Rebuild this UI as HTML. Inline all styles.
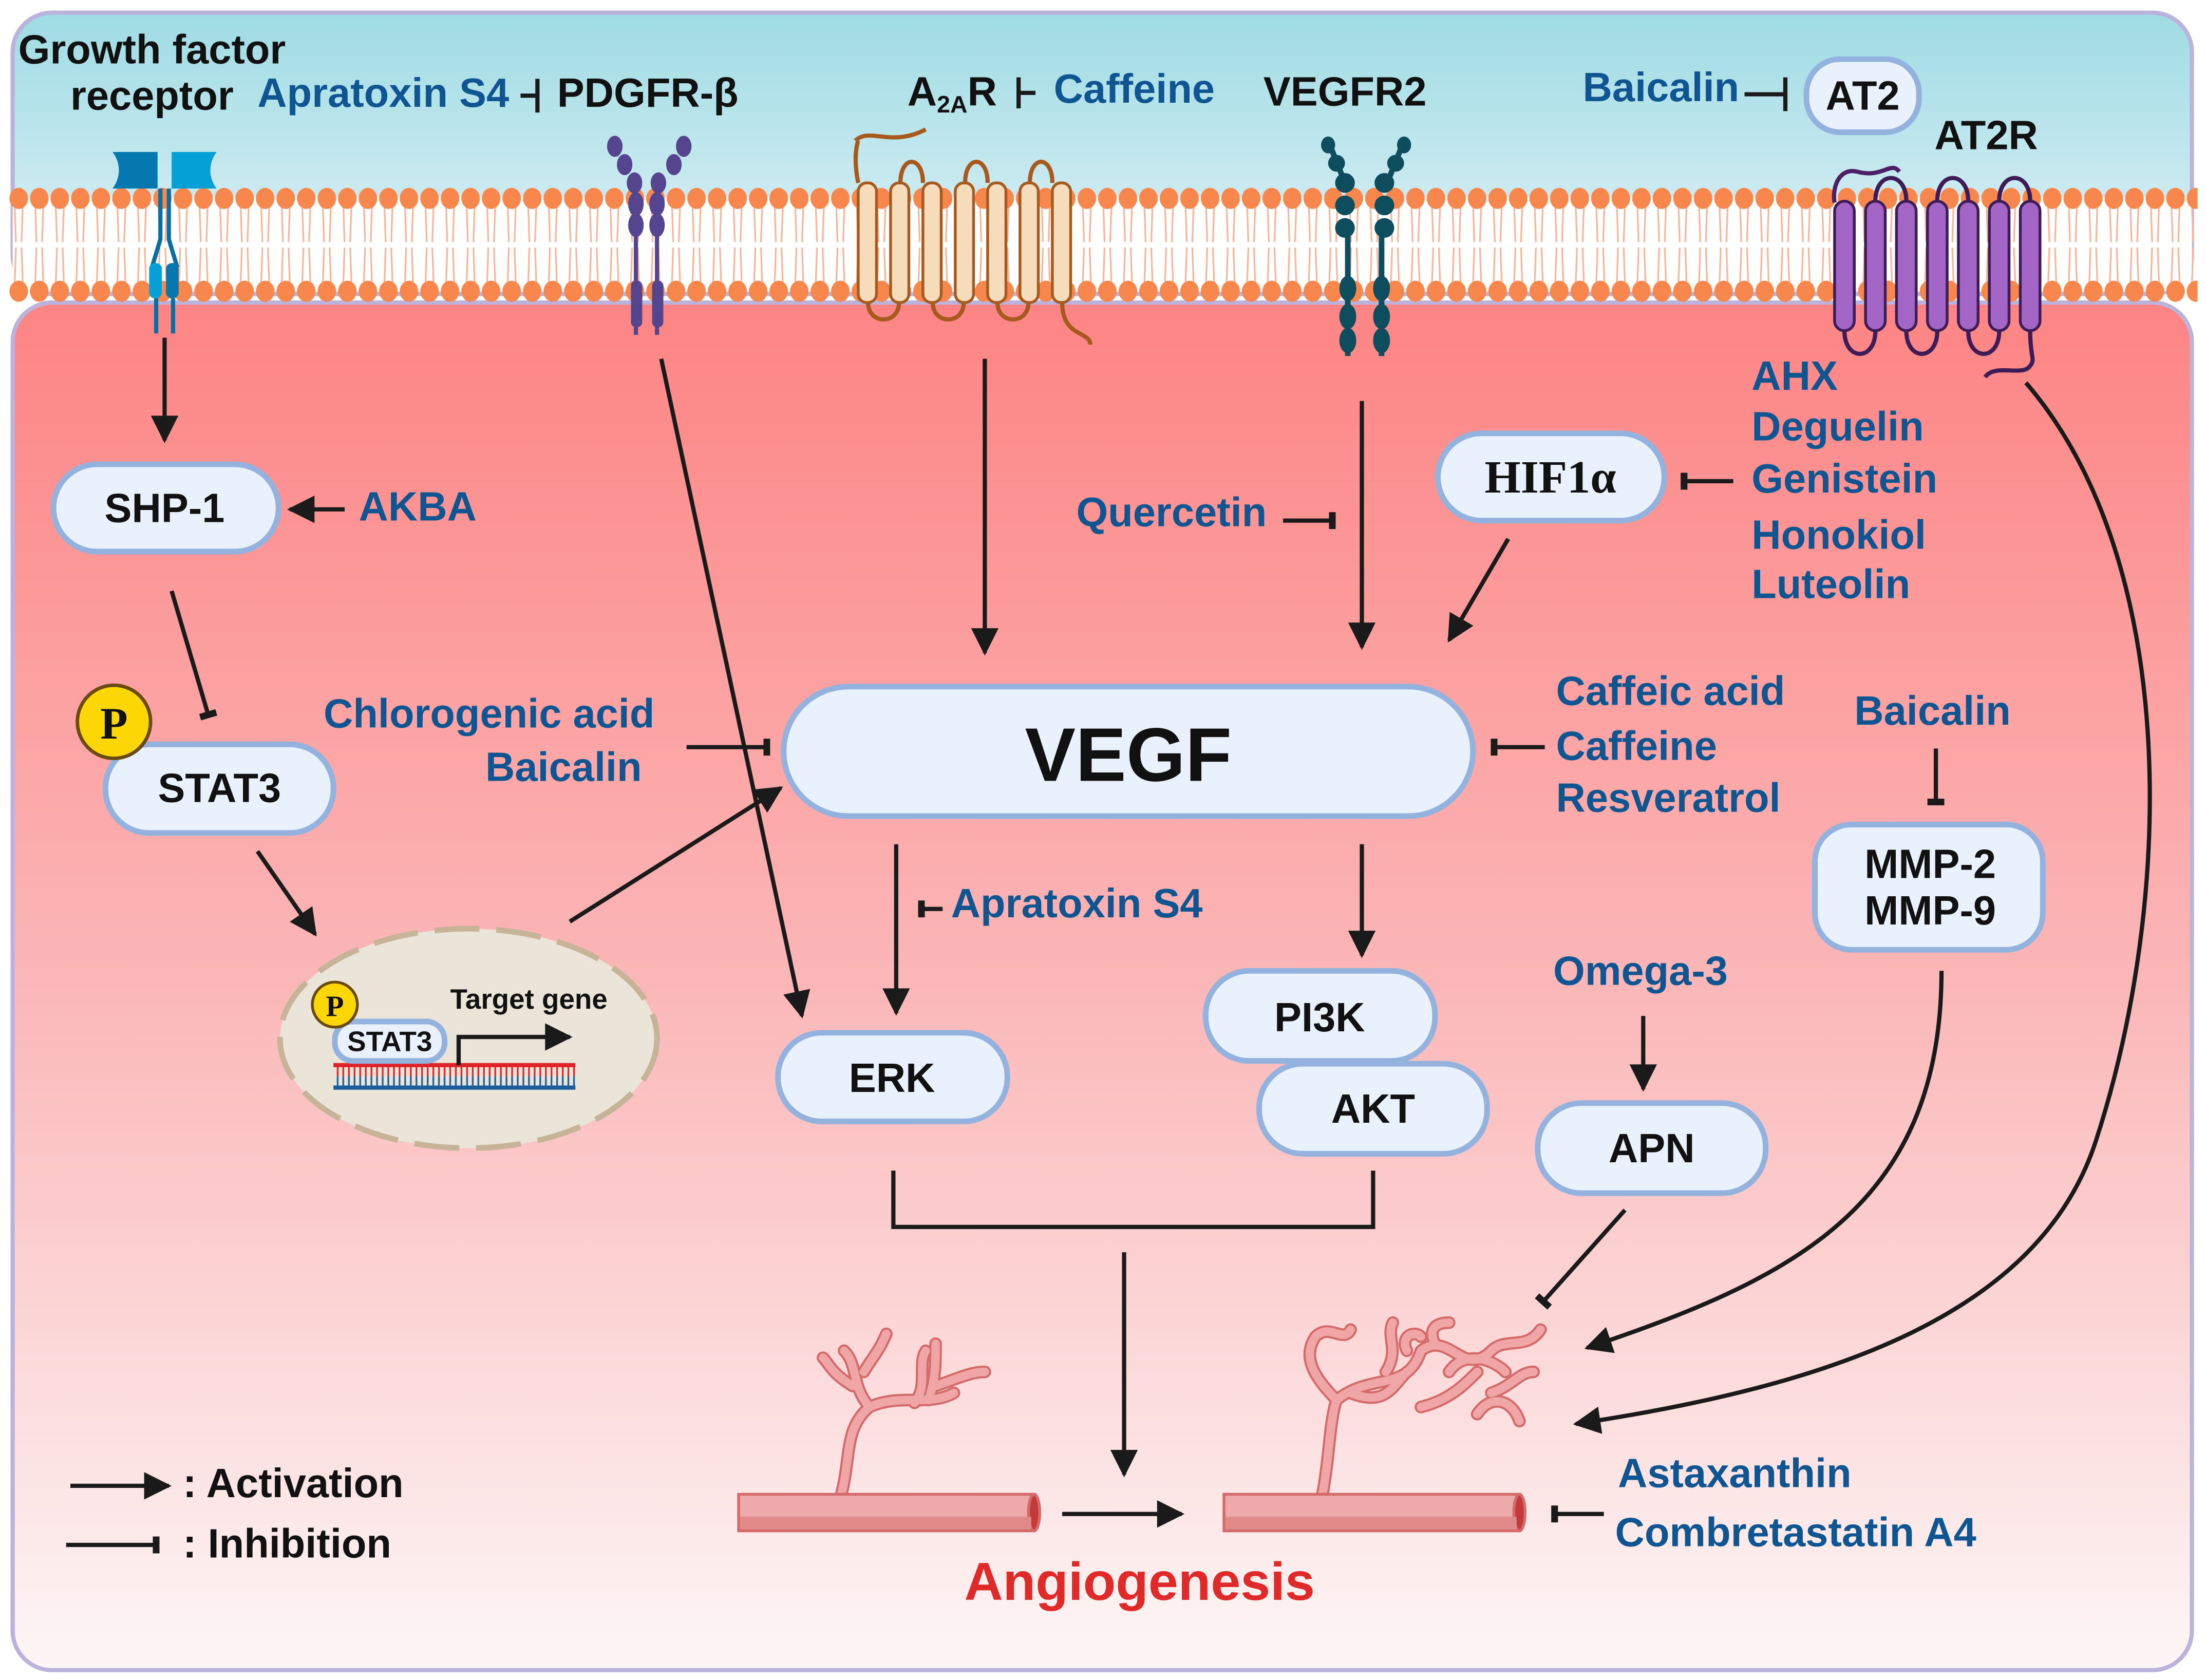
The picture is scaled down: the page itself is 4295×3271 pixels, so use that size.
<!DOCTYPE html>
<html><head><meta charset="utf-8"><style>
html,body{margin:0;padding:0;background:#fff;}
svg{display:block;}
text{font-family:"Liberation Sans",Arial,sans-serif;font-weight:bold;}
.b{fill:#0e5592;font-size:29px;}
.k{fill:#111;font-size:29px;}
.n{fill:#e9f2fc;stroke:#93b2dd;stroke-width:4;}
.l{stroke:#1a1a1a;stroke-width:3;fill:none;}
</style></head><body>
<svg width="4295" height="3271" viewBox="0 0 1568 1194" preserveAspectRatio="none" xmlns="http://www.w3.org/2000/svg">
<defs>
<linearGradient id="top" x1="0" y1="0" x2="0" y2="1"><stop offset="0" stop-color="#9fdbe4"/><stop offset="1" stop-color="#e2f3f7"/></linearGradient>
<linearGradient id="cyt" x1="0" y1="0" x2="0" y2="1"><stop offset="0" stop-color="#fd8484"/><stop offset="0.5" stop-color="#fbb7b8"/><stop offset="1" stop-color="#fdf6f6"/></linearGradient>
<pattern id="mem" x="6" y="0" width="14.6" height="300" patternUnits="userSpaceOnUse">
<line x1="4.3" y1="142" x2="5.3" y2="172" stroke="#f7b59c" stroke-width="1.2"/>
<line x1="10.3" y1="142" x2="9.3" y2="172" stroke="#f7b59c" stroke-width="1.2"/>
<line x1="5.3" y1="176" x2="4.3" y2="205" stroke="#f7b59c" stroke-width="1.2"/>
<line x1="9.3" y1="176" x2="10.3" y2="205" stroke="#f7b59c" stroke-width="1.2"/>
<ellipse cx="7.3" cy="141" rx="6.6" ry="7.5" fill="#f7874d"/>
<ellipse cx="7.3" cy="207" rx="6.6" ry="7.5" fill="#f7874d"/>
</pattern>
<pattern id="dna" x="239" y="0" width="4" height="1000" patternUnits="userSpaceOnUse">
<line x1="1" y1="758" x2="1" y2="765" stroke="#e0232b" stroke-width="1.2"/>
<line x1="1" y1="765" x2="1" y2="772" stroke="#1b5e9e" stroke-width="1.2"/>
</pattern>
<marker id="a" viewBox="0 0 10 10" refX="9" refY="5" markerWidth="7" markerHeight="6.5" orient="auto" markerUnits="strokeWidth"><path d="M0,0L10,5L0,10z" fill="#1a1a1a"/></marker>
<marker id="t" viewBox="0 0 4 10" refX="2" refY="5" markerWidth="1.6" markerHeight="8.5" orient="auto" markerUnits="strokeWidth"><rect x="0" y="0" width="4" height="10" fill="#1a1a1a"/></marker>
</defs>
<rect x="0" y="0" width="1568" height="1194" fill="#fff"/>
<rect x="9" y="9" width="1549" height="200" rx="28" fill="url(#top)" stroke="#bbb3dc" stroke-width="3"/>
<rect x="9" y="215" width="1549" height="972" rx="28" fill="url(#cyt)" stroke="#bbb3dc" stroke-width="3"/>
<rect x="9" y="140" width="1549" height="67" fill="#fff"/>
<rect x="6" y="130" width="1556" height="87" fill="url(#mem)"/>
<!-- growth factor receptor -->
<path d="M80,108h32v26h-32c6-8,6-18,0-26z" fill="#0578b0"/>
<path d="M122,108h32c-6,8,-6,18,0,26h-32z" fill="#05a0d6"/>
<path d="M114,134 L114,170 L108,190 M120,134 L120,170 L126,190" stroke="#0a6fa0" stroke-width="3" fill="none"/>
<rect x="106" y="187" width="9" height="25" rx="4" fill="#05a0d6"/><rect x="118" y="187" width="9" height="25" rx="4" fill="#0578b0"/>
<path d="M111,212v25M123,212v25" stroke="#0a6fa0" stroke-width="3"/>
<!-- PDGFR -->
<g fill="#55448e" stroke="#55448e">
<ellipse cx="437" cy="104" rx="5" ry="7"/><ellipse cx="486" cy="104" rx="5" ry="7"/>
<ellipse cx="444" cy="117" rx="5" ry="7"/><ellipse cx="479" cy="117" rx="5" ry="7"/>
<ellipse cx="451" cy="130" rx="5" ry="7"/><ellipse cx="468" cy="130" rx="5" ry="7"/>
<ellipse cx="452" cy="145" rx="5" ry="8"/><ellipse cx="467" cy="145" rx="5" ry="8"/>
<ellipse cx="452" cy="160" rx="5" ry="8"/><ellipse cx="467" cy="160" rx="5" ry="8"/>
<path d="M452,165v73M467,165v73" stroke-width="3"/>
<rect x="449" y="200" width="7" height="32" rx="3"/><rect x="464" y="200" width="7" height="32" rx="3"/>
</g>
<!-- A2AR -->
<path d="M608,100c10,-10,25,5,50,-8" stroke="#a65a1e" stroke-width="3" fill="none"/>
<g fill="#f7dcbc" stroke="#a65a1e" stroke-width="2">
<rect x="610" y="130" width="13" height="85" rx="6"/><rect x="633" y="130" width="13" height="85" rx="6"/><rect x="656" y="130" width="13" height="85" rx="6"/><rect x="679" y="130" width="13" height="85" rx="6"/><rect x="702" y="130" width="13" height="85" rx="6"/><rect x="725" y="130" width="13" height="85" rx="6"/><rect x="748" y="130" width="13" height="85" rx="6"/>
</g>
<path d="M610,130c-4,-20,0,-30,0,-30M640,130c0,-20,16,-20,16,0M686,130c0,-20,16,-20,16,0M732,130c0,-20,16,-20,16,0M617,215c0,16,22,16,22,0M663,215c0,16,22,16,22,0M709,215c0,16,22,16,22,0M755,215c0,25,20,20,20,30" stroke="#a65a1e" stroke-width="3" fill="none"/>
<!-- VEGFR2 -->
<g fill="#0d4d5e">
<path d="M944,100 L956,130 M998,100 L986,130" stroke="#0d4d5e" stroke-width="4"/>
<ellipse cx="944" cy="103" rx="5" ry="6"/><ellipse cx="998" cy="103" rx="5" ry="6"/>
<ellipse cx="950" cy="116" rx="6" ry="6"/><ellipse cx="992" cy="116" rx="6" ry="6"/>
<ellipse cx="956" cy="130" rx="7" ry="7"/><ellipse cx="984" cy="130" rx="7" ry="7"/>
<ellipse cx="956" cy="146" rx="7" ry="7"/><ellipse cx="984" cy="146" rx="7" ry="7"/>
<ellipse cx="956" cy="162" rx="7" ry="7"/><ellipse cx="984" cy="162" rx="7" ry="7"/>
<path d="M958,168v85M982,168v85" stroke="#0d4d5e" stroke-width="4"/>
<ellipse cx="958" cy="205" rx="6" ry="9"/><ellipse cx="982" cy="205" rx="6" ry="9"/>
<ellipse cx="958" cy="225" rx="6" ry="9"/><ellipse cx="982" cy="225" rx="6" ry="9"/>
<ellipse cx="958" cy="242" rx="6" ry="9"/><ellipse cx="982" cy="242" rx="6" ry="9"/>
</g>
<!-- AT2R -->
<path d="M1350,122c-6,-8,-12,5,-30,0c-12,-3,-18,10,-16,22" stroke="#4a1f66" stroke-width="3" fill="none"/>
<g fill="#a365c6" stroke="#3e1c58" stroke-width="2">
<rect x="1304" y="143" width="14" height="92" rx="7"/><rect x="1326" y="143" width="14" height="92" rx="7"/><rect x="1348" y="143" width="14" height="92" rx="7"/><rect x="1370" y="143" width="14" height="92" rx="7"/><rect x="1392" y="143" width="14" height="92" rx="7"/><rect x="1414" y="143" width="14" height="92" rx="7"/><rect x="1436" y="143" width="14" height="92" rx="7"/>
</g>
<path d="M1333,143c0,-22,22,-22,22,0M1377,143c0,-22,22,-22,22,0M1421,143c0,-22,22,-22,22,0M1311,235c0,22,22,22,22,0M1355,235c0,22,22,22,22,0M1399,235c0,22,22,22,22,0M1443,235c0,20,4,20,0,25c-5,8,-25,-2,-32,8" stroke="#3e1c58" stroke-width="3" fill="none"/>
<!-- top labels -->
<text x="13" y="45" class="k">Growth factor</text>
<text x="50" y="78" class="k">receptor</text>
<text x="183" y="76" class="b">Apratoxin S4</text>
<path d="M370,68h12M382,56v24" stroke="#1a1a1a" stroke-width="3"/>
<text x="396" y="76" class="k">PDGFR-β</text>
<text x="645" y="75" class="k">A<tspan font-size="17" dy="5">2A</tspan><tspan dy="-5">R</tspan></text>
<path d="M724,55v22M724,66h12" stroke="#1a1a1a" stroke-width="3"/>
<text x="749" y="73" class="b">Caffeine</text>
<text x="898" y="75" class="k">VEGFR2</text>
<text x="1125" y="72" class="b">Baicalin</text>
<path d="M1240,67h28M1269,55v24" stroke="#1a1a1a" stroke-width="3"/>
<rect x="1284" y="42" width="80" height="52" rx="24" class="n"/>
<text x="1324" y="78" class="k" text-anchor="middle">AT2</text>
<text x="1375" y="106" class="k">AT2R</text>
<!-- nodes -->
<rect x="38" y="330" width="160" height="62" rx="31" class="n"/><text x="117" y="371" class="k" text-anchor="middle">SHP-1</text>
<text x="255" y="370" class="b">AKBA</text>
<rect x="75" y="529" width="162" height="63" rx="31" class="n"/><text x="156" y="570" class="k" text-anchor="middle">STAT3</text>
<circle cx="81" cy="513" r="26" fill="#fcd705" stroke="#6b4a10" stroke-width="2.5"/><text x="81" y="525" text-anchor="middle" style="font-family:'Liberation Serif',serif;font-size:32px;fill:#111">P</text>
<rect x="557" y="488" width="490" height="92" rx="46" class="n"/><text x="802" y="555" class="k" text-anchor="middle" style="font-size:54px">VEGF</text>
<rect x="1022" y="308" width="161" height="62" rx="31" class="n"/><text x="1102" y="350" text-anchor="middle" style="font-family:'Liberation Serif',serif;font-size:33px;fill:#111">HIF1α</text>
<text x="1245" y="277" class="b">AHX</text>
<text x="1245" y="313" class="b">Deguelin</text>
<text x="1245" y="350" class="b">Genistein</text>
<text x="1245" y="390" class="b">Honokiol</text>
<text x="1245" y="425" class="b">Luteolin</text>
<text x="765" y="374" class="b">Quercetin</text>
<text x="230" y="517" class="b">Chlorogenic acid</text>
<text x="345" y="555" class="b">Baicalin</text>
<text x="1106" y="501" class="b">Caffeic acid</text>
<text x="1106" y="540" class="b">Caffeine</text>
<text x="1106" y="577" class="b">Resveratrol</text>
<text x="1318" y="515" class="b">Baicalin</text>
<rect x="1290" y="586" width="162" height="89" rx="26" class="n"/>
<text x="1372" y="624" class="k" text-anchor="middle">MMP-2</text><text x="1372" y="657" class="k" text-anchor="middle">MMP-9</text>
<text x="676" y="652" class="b">Apratoxin S4</text>
<rect x="553" y="734" width="163" height="63" rx="31" class="n"/><text x="634" y="776" class="k" text-anchor="middle">ERK</text>
<rect x="857" y="690" width="163" height="64" rx="31" class="n"/><text x="938" y="733" class="k" text-anchor="middle">PI3K</text>
<rect x="895" y="756" width="162" height="64" rx="31" class="n"/><text x="976" y="798" class="k" text-anchor="middle">AKT</text>
<text x="1104" y="700" class="b">Omega-3</text>
<rect x="1093" y="784" width="162" height="64" rx="31" class="n"/><text x="1174" y="826" class="k" text-anchor="middle">APN</text>
<!-- nucleus -->
<ellipse cx="333" cy="738" rx="134" ry="78" fill="#ebe4d8" stroke="#c7b398" stroke-width="4" stroke-dasharray="32 12"/>
<rect x="239" y="758" width="170" height="14" fill="url(#dna)"/>
<path d="M237,757h172" stroke="#e0232b" stroke-width="3"/><path d="M237,773h172" stroke="#1b5e9e" stroke-width="3"/>
<rect x="238" y="726" width="78" height="28" rx="13" class="n" stroke-width="2"/><text x="277" y="747" class="k" text-anchor="middle" style="font-size:20px">STAT3</text>
<circle cx="238" cy="714" r="16" fill="#fcd705" stroke="#6b4a10" stroke-width="2"/><text x="238" y="722" text-anchor="middle" style="font-family:'Liberation Serif',serif;font-size:21px;fill:#111">P</text>
<text x="320" y="717" class="k" style="font-size:20px">Target gene</text>
<path d="M326,757V737H405" class="l" stroke-width="2.5" marker-end="url(#a)"/>
<!-- connectors -->
<g class="l">
<path d="M117,240V313" marker-end="url(#a)"/>
<path d="M245,362H206" marker-end="url(#a)"/>
<path d="M122,420L148,508" marker-end="url(#t)"/>
<path d="M183,605L224,664" marker-end="url(#a)"/>
<path d="M405,655L555,560" marker-end="url(#a)"/>
<path d="M488,531H545" marker-end="url(#t)"/>
<path d="M470,255L570,722" marker-end="url(#a)"/>
<path d="M700,255V464" marker-end="url(#a)"/>
<path d="M968,285V460" marker-end="url(#a)"/>
<path d="M912,370H947" marker-end="url(#t)"/>
<path d="M1072,383L1030,455" marker-end="url(#a)"/>
<path d="M1232,342H1197" marker-end="url(#t)"/>
<path d="M1098,531H1062" marker-end="url(#t)"/>
<path d="M637,600V720" marker-end="url(#a)"/>
<path d="M670,646H655" marker-end="url(#t)"/>
<path d="M968,600V679" marker-end="url(#a)"/>
<path d="M1168,722V774" marker-end="url(#a)"/>
<path d="M1376,532V570" marker-end="url(#t)"/>
<path d="M635,832V872H976V832"/>
<path d="M799,890V1048" marker-end="url(#a)"/>
<path d="M1155,860L1097,925" marker-end="url(#t)"/>
<path d="M1380,690C1380,860 1270,910 1128,958" marker-end="url(#a)"/>
<path d="M1440,272C1550,400 1545,640 1490,810C1450,935 1300,985 1120,1012" marker-end="url(#a)"/>
<path d="M755,1076H840" marker-end="url(#a)"/>
<path d="M1140,1076H1105" marker-end="url(#t)"/>
<path d="M50,1056H120" marker-end="url(#a)"/>
<path d="M47,1098H111" marker-end="url(#t)"/>
</g>
<!-- vessels -->
<g stroke="#d46a6a" stroke-width="9" fill="none" stroke-linecap="round" stroke-linejoin="round">
<path id="v1" d="M598,1062C605,1035 600,1015 618,1000C640,990 660,1000 678,990M618,1000C605,985 610,970 600,960M606,985C590,975 590,970 585,965M614,975C620,965 625,960 630,948M660,995C665,980 665,970 665,955M665,985C680,980 690,975 700,975M650,997C660,985 652,970 658,960"/>
<path id="v2" d="M940,1062C945,1035 945,1010 950,995C975,975 1000,990 1010,960C1030,945 1040,980 1060,960C1070,950 1085,960 1095,945M950,995C935,980 925,965 935,950C945,940 955,955 960,945M960,990C985,1000 990,985 1000,975M985,975C995,960 985,950 990,940M1010,1000C1030,995 1040,985 1050,975M1030,975C1040,960 1060,965 1070,975M1060,990C1075,985 1080,975 1090,975M1020,955C1015,945 1020,940 1030,940M1050,1005C1060,990 1075,995 1080,1010M1000,960C995,950 1005,945 1010,950"/>
</g>
<g stroke="#f0a6a6" stroke-width="6" fill="none" stroke-linecap="round" stroke-linejoin="round">
<use href="#v1"/><use href="#v2"/>
</g>
<g fill="#eeaaaa" stroke="#d46a6a" stroke-width="2">
<rect x="525" y="1062" width="210" height="26"/><ellipse cx="735" cy="1075" rx="4" ry="13" fill="#c43a3a"/>
<rect x="870" y="1062" width="210" height="26"/><ellipse cx="1080" cy="1075" rx="4" ry="13" fill="#c43a3a"/>
</g>
<rect x="526" y="1078" width="207" height="9" fill="#e08a8a"/><rect x="871" y="1078" width="207" height="9" fill="#e08a8a"/>
<text x="1150" y="1057" class="b">Astaxanthin</text>
<text x="1148" y="1099" class="b">Combretastatin A4</text>
<text x="810" y="1137" text-anchor="middle" style="fill:#e02a2a;font-size:38px">Angiogenesis</text>
<text x="130" y="1064" class="k">: Activation</text>
<text x="130" y="1107" class="k">: Inhibition</text>
</svg>
</body></html>
